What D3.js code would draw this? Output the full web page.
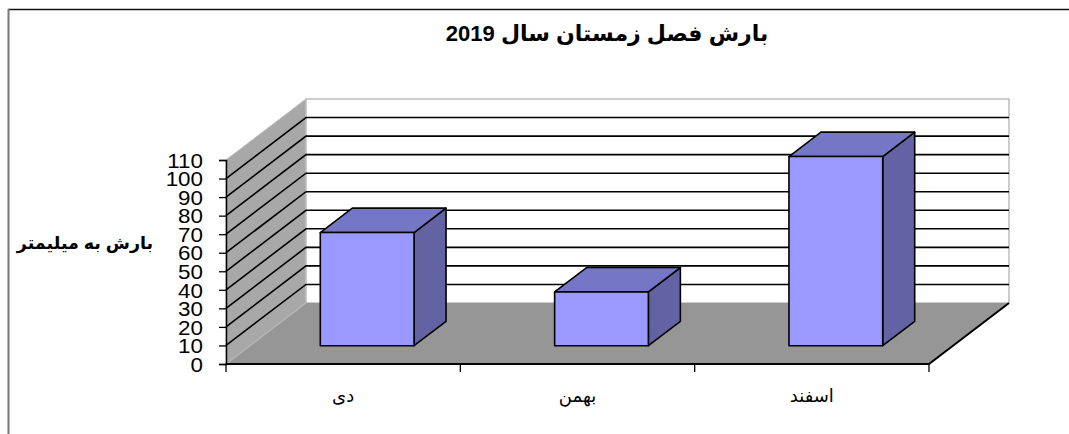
<!DOCTYPE html>
<html><head><meta charset="utf-8">
<script src="https://cdn.jsdelivr.net/npm/d3@7"></script>
<style>body{margin:0;background:#fff}svg{display:block}</style>
</head><body>
<script>
const categories = ["دی", "بهمن", "اسفند"];
const values = [61, 29, 102];
const yTicks = [0, 10, 20, 30, 40, 50, 60, 70, 80, 90, 100, 110];
const title = "بارش فصل زمستان سال 2019";
const yTitle = "بارش به میلیمتر";

const W = 1069, H = 434;
const svg = d3.select("body").append("svg").attr("width", W).attr("height", H);
const font = "Arial, 'Liberation Sans', 'DejaVu Sans', sans-serif";

// frame
svg.append("line").attr("x1", 8).attr("x2", W).attr("y1", 9.5).attr("y2", 9.5).attr("stroke", "#111").attr("stroke-width", 1.5);
svg.append("line").attr("x1", 8.5).attr("x2", 8.5).attr("y1", 9).attr("y2", H).attr("stroke", "#777").attr("stroke-width", 2);

const x = d3.scaleBand().domain(categories).range([226, 929]).paddingInner(0).paddingOuter(0);
const y = d3.scaleLinear().domain([0, 110]).range([364, 160]);
const DX = 80, DY = -61;          // full depth offset
const barDepth = 0.4, barFront = 0.3, barWidthFrac = 0.4;

const x0 = x.range()[0], x1 = x.range()[1];
const pt = (px, py, d) => [px + DX * d, py + DY * d];
const poly = pts => "M" + pts.map(p => p.join(",")).join("L") + "Z";

const g = svg.append("g");
// side wall
g.append("path").attr("d", poly([pt(x0, y(0), 0), pt(x0, y(110), 0), pt(x0, y(110), 1), pt(x0, y(0), 1)]))
  .attr("fill", "#a8a8a8").attr("stroke", "#b8b8b8").attr("stroke-width", 1);
// back wall
g.append("path").attr("d", poly([pt(x0, y(0), 1), pt(x0, y(110), 1), pt(x1, y(110), 1), pt(x1, y(0), 1)]))
  .attr("fill", "#fff").attr("stroke", "#bdbdbd").attr("stroke-width", 1.5);
// floor
g.append("path").attr("d", poly([pt(x0, y(0), 0), pt(x1, y(0), 0), pt(x1, y(0), 1), pt(x0, y(0), 1)]))
  .attr("fill", "#969696");
g.append("line").attr("x1", x0).attr("y1", y(0)).attr("x2", pt(x0, y(0), 1)[0]).attr("y2", pt(x0, y(0), 1)[1])
  .attr("stroke", "#b4b4b4").attr("stroke-width", 1.5);

// gridlines
const gl = yTicks.filter(v => v > 0 && v < 110);
gl.forEach(v => {
  const a = pt(x0, y(v), 0), b = pt(x0, y(v), 1), c = pt(x1, y(v), 1);
  g.append("path").attr("d", "M" + a + "L" + b + "L" + c).attr("fill", "none").attr("stroke", "#000").attr("stroke-width", 1.6);
});

// floor front and right edges
g.append("path").attr("d", "M" + pt(x0, y(0), 0) + "L" + pt(x1, y(0), 0) + "L" + pt(x1, y(0), 1))
  .attr("fill", "none").attr("stroke", "#000").attr("stroke-width", 2);

// bars
const bw = x.bandwidth();
values.forEach((v, i) => {
  const c = categories[i];
  const bx = x(c) + bw * (1 - barWidthFrac) / 2;
  const bx2 = bx + bw * barWidthFrac;
  const F = d => pt(bx, y(0), d), Fr = d => pt(bx2, y(0), d);
  const T = d => pt(bx, y(v), d), Tr = d => pt(bx2, y(v), d);
  const d0 = barFront, d1 = barFront + barDepth;
  const gb = g.append("g").attr("stroke", "#000").attr("stroke-width", 1.6).attr("stroke-linejoin", "round");
  gb.append("path").attr("d", poly([Fr(d0), Tr(d0), Tr(d1), Fr(d1)])).attr("fill", "#6363a3");
  gb.append("path").attr("d", poly([T(d0), Tr(d0), Tr(d1), T(d1)])).attr("fill", "#7676c6");
  gb.append("path").attr("d", poly([F(d0), T(d0), Tr(d0), Fr(d0)])).attr("fill", "#9999ff");
});

// y axis
const ya = svg.append("g").attr("transform", `translate(${x0},0)`)
  .call(d3.axisLeft(y).tickValues(yTicks).tickSize(7).tickPadding(16));
ya.select(".domain").attr("stroke", "#000").attr("stroke-width", 1.5);
ya.selectAll(".tick line").attr("stroke", "#000").attr("stroke-width", 1.3);
ya.selectAll(".tick text").attr("font-family", font).attr("font-size", 20).attr("fill", "#000")
  .attr("dy", "0.36em").attr("transform", "scale(1.12,1)").attr("x", -23 / 1.12);

// x axis ticks at category boundaries
const xt = categories.map(c => x(c)).concat([x1]);
svg.append("g").selectAll("line").data(xt).join("line")
  .attr("x1", d => d).attr("x2", d => d).attr("y1", y(0)).attr("y2", y(0) + 8)
  .attr("stroke", "#000").attr("stroke-width", 1.3);

// category labels
svg.append("g").selectAll("text").data(categories).join("text")
  .attr("x", d => x(d) + bw / 2).attr("y", 402)
  .attr("text-anchor", "middle").attr("direction", "rtl")
  .attr("font-family", font).attr("font-size", 18).attr("fill", "#000").text(d => d);

// titles
svg.append("text").attr("x", 607).attr("y", 41).attr("text-anchor", "middle").attr("direction", "rtl")
  .attr("font-family", font).attr("font-size", 22).attr("font-weight", "bold").text(title);
svg.append("text").attr("x", 85).attr("y", 249).attr("text-anchor", "middle").attr("direction", "rtl")
  .attr("font-family", font).attr("font-size", 17.5).attr("font-weight", "bold").text(yTitle);
</script>
</body></html>
